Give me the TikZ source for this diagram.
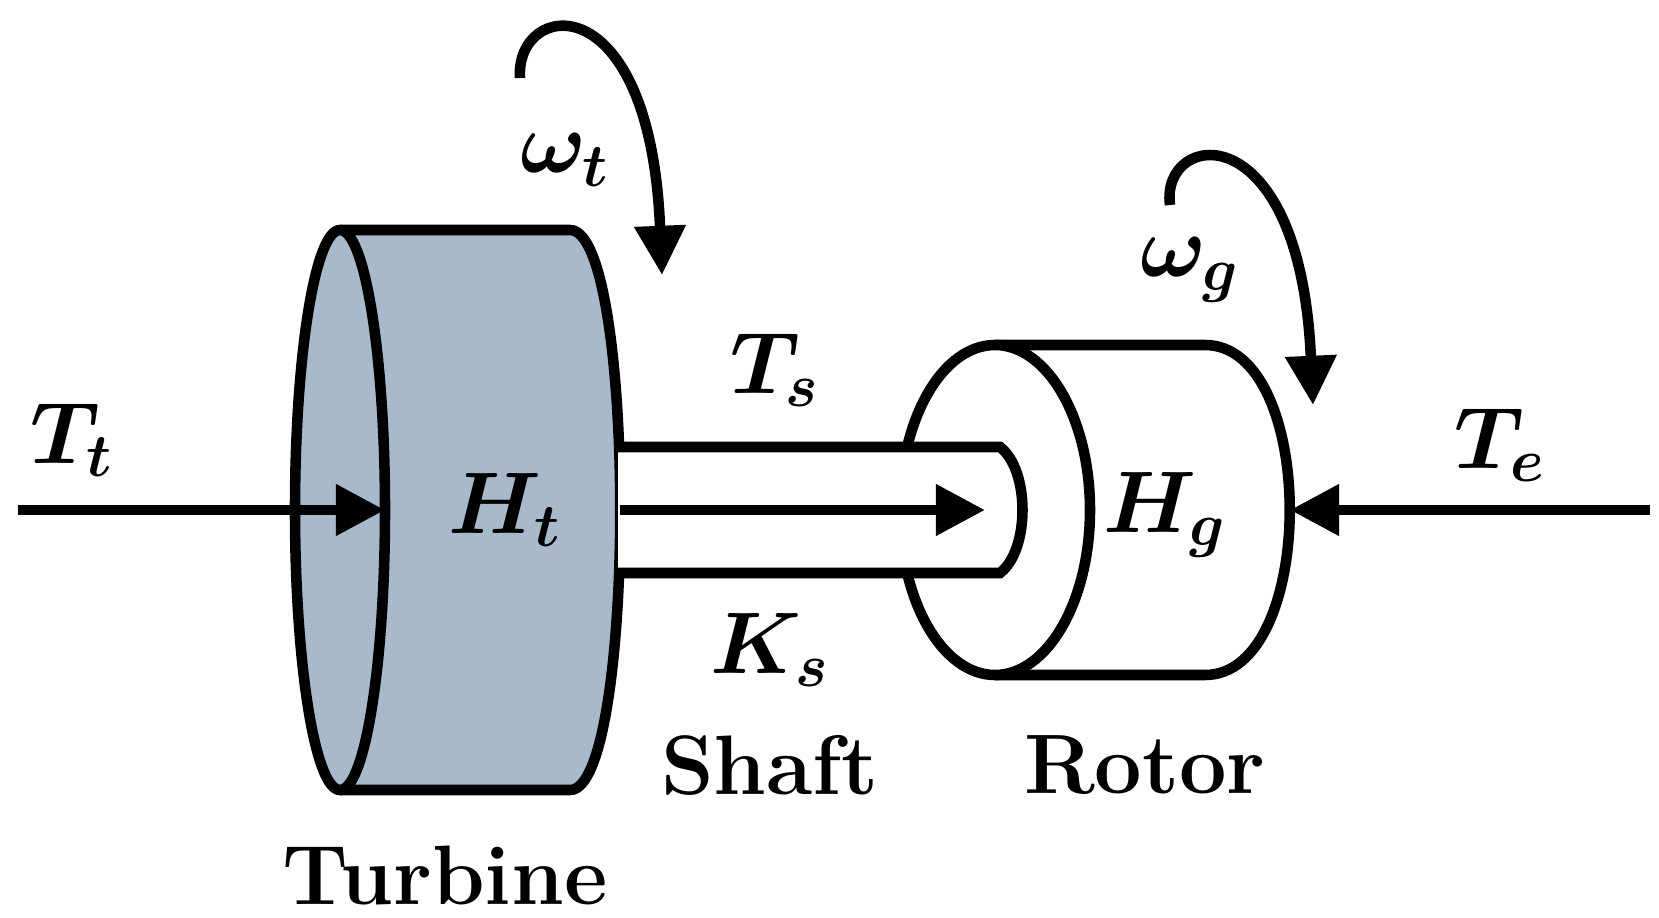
\documentclass[tikz,border=0pt]{standalone}
\usepackage{amsmath,bm}
\usetikzlibrary{arrows.meta}
\begin{document}
\begin{tikzpicture}[x=0.01cm,y=-0.01cm,line width=3pt,
  lbl/.style={font=\fontsize{24}{28}\selectfont\bfseries},
  arr/.style={-{Triangle[length=14pt,width=14pt]}}]
\useasboundingbox (0,0) rectangle (1659,918);
% turbine
\fill[fill={rgb,255:red,169;green,185;blue,204}] (340,230) -- (570,230) .. controls (637,230) and (637,790) .. (570,790) -- (340,790) .. controls (280,790) and (280,230) .. (340,230) -- cycle;
\draw (340,230) -- (570,230) .. controls (637,230) and (637,790) .. (570,790) -- (340,790);
\draw (340,510) ellipse[x radius=45,y radius=280];
% rotor
\draw[fill=white] (995,345) -- (1205,345) .. controls (1318,345) and (1318,675) .. (1205,675) -- (995,675);
\draw[fill=white] (995,510) ellipse[x radius=95,y radius=165];
% shaft
\draw[fill=white] (618,447) -- (1000,447) .. controls (1030,470) and (1030,550) .. (1000,573) -- (618,573);
\draw[arr] (620,510) -- (985,510);
% torque arrows
\coordinate (tt0) at (18,510); \coordinate (tt1) at (385,510);
\draw[arr] (tt0) -- (tt1);
\coordinate (te0) at (1650,510); \coordinate (te1) at (1290,510);
\draw[arr] (te0) -- (te1);
% rotation arrows
\coordinate (wt0) at (520,78); \coordinate (wt1) at (662,275);
\draw[arr] (wt0) .. controls (515,0) and (650,-20) .. (wt1);
\coordinate (wg0) at (1170,205); \coordinate (wg1) at (1313,405);
\draw[arr] (wg0) .. controls (1160,130) and (1300,110) .. (wg1);
% labels
\node[lbl] (lwt) at (565,160) {$\bm{\omega_t}$};
\node[lbl] (lwg) at (1190,270) {$\bm{\omega_g}$};
\node[lbl] (lts) at (775,370) {$\bm{T_s}$};
\node[lbl] (lks) at (770,650) {$\bm{K_s}$};
\node[lbl] (lht) at (505,510) {$\bm{H_t}$};
\node[lbl] (lhg) at (1165,515) {$\bm{H_g}$};
\node[lbl] (ltt) at (72,440) {$\bm{T_t}$};
\node[lbl] (lte) at (1500,445) {$\bm{T_e}$};
\node[lbl] (shaft) at (770,765) {Shaft};
\node[lbl] (rotor) at (1145,765) {Rotor};
\node[lbl] (turb) at (445,875) {Turbine};
\end{tikzpicture}
\end{document}
